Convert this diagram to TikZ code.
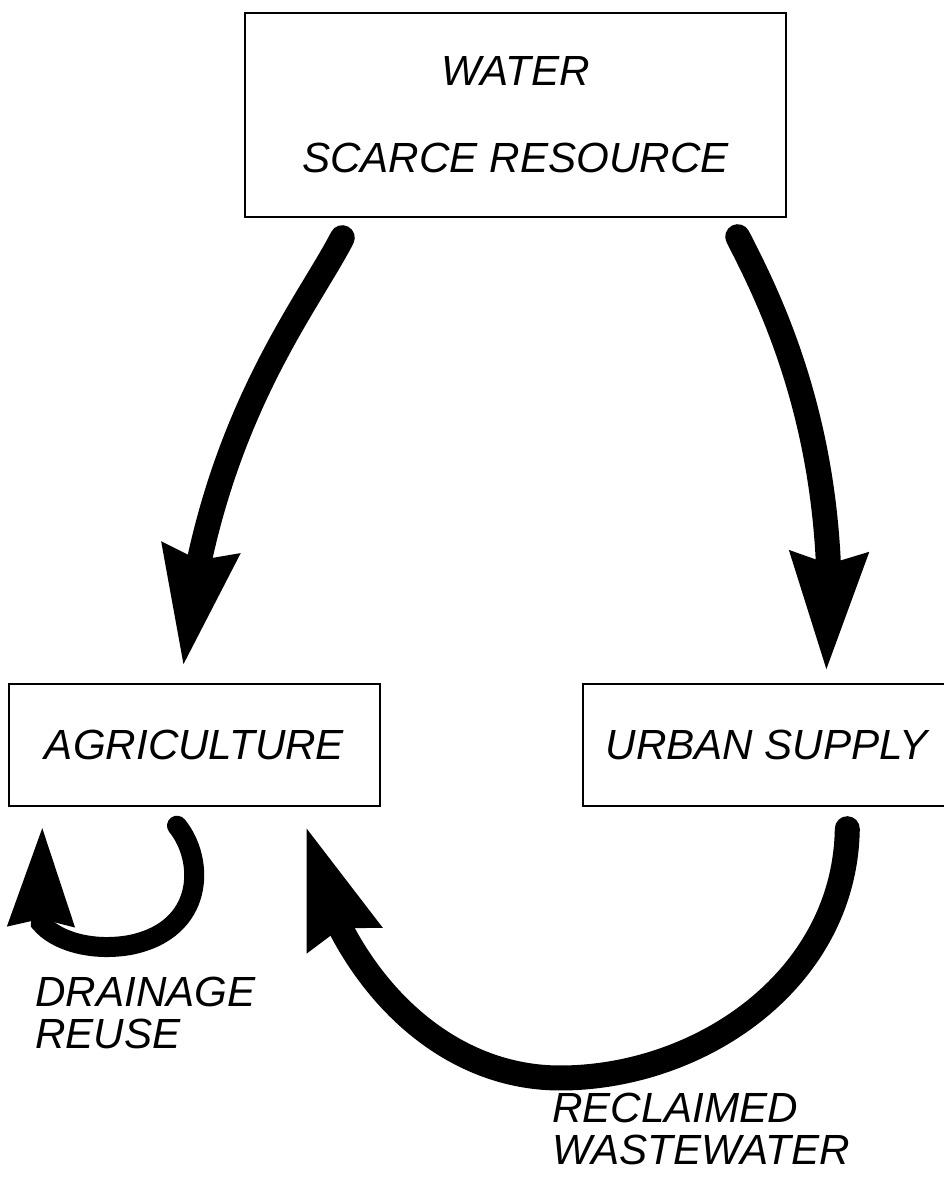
\documentclass[tikz,border=0pt]{standalone}
\usepackage{fontspec}
\setmainfont{Liberation Sans}
\usetikzlibrary{arrows.meta,bending,calc}

\begin{document}
\begin{tikzpicture}

	\tikzstyle{box}=[draw,rectangle,line width=0.8pt,inner sep=0pt,align=center,font=\fontsize{24}{24}\selectfont\itshape]
	\tikzstyle{flow}=[line width=0.5cm,line cap=round,-{Stealth[length=2.34cm,width=1.46cm,inset=0.18cm]}]
	\tikzstyle{loopflow}=[line width=0.4cm,line cap=round,-{Stealth[length=1.96cm,width=1.24cm,inset=0.1cm]}]
	\tikzstyle{caption}=[anchor=north west,inner sep=0pt,align=left,font=\fontsize{24}{24}\selectfont\itshape]

	\useasboundingbox (0,0) rectangle (18.88,23.64);

	\node[box,minimum width=10.82cm,minimum height=4.08cm,font=\fontsize{24}{49.5}\selectfont\itshape] (water) at (10.31,21.34) {WATER\\SCARCE RESOURCE};

	\node[box,minimum width=7.42cm,minimum height=2.44cm] (agri) at (3.89,8.74) {AGRICULTURE};
	\node[box,minimum width=7.34cm,minimum height=2.44cm] (urban) at (15.33,8.74) {URBAN SUPPLY};

	\node[caption] (drain) at (0.7,4.1) {DRAINAGE\\REUSE};
	\node[caption] (reclaim) at (11.04,1.78) {RECLAIMED\\WASTEWATER};

	% supply from the resource
	\draw[flow] ($(water.south west)+(1.96,-0.4)$) .. controls (6.1,17.44) and (4.1,15.04) .. ($(agri.north)+(-0.23,0.32)$);
	\draw[flow] ($(water.south east)+(-0.98,-0.38)$) .. controls (15.4,17.64) and (16.9,14.74) .. ($(urban.north west)+(4.88,0.22)$);

	% reuse loops
	\draw[flow] ($(urban.south west)+(5.3,-0.44)$) .. controls (16.9,4.04) and (14,2.08) .. (11.2,2.08) .. controls (8.6,2.08) and (6.6,4.44) .. ($(agri.south east)+(-1.5,-0.38)$);
	\draw[loopflow] ($(agri.south)+(-0.35,-0.38)$) .. controls (4.1,6.44) and (4.1,5.04) .. (2.6,4.74) .. controls (1.8,4.6) and (1.1,4.84) .. (0.82,5.18) -- ($(agri.south west)+(0.68,-0.38)$);

\end{tikzpicture}
\end{document}
